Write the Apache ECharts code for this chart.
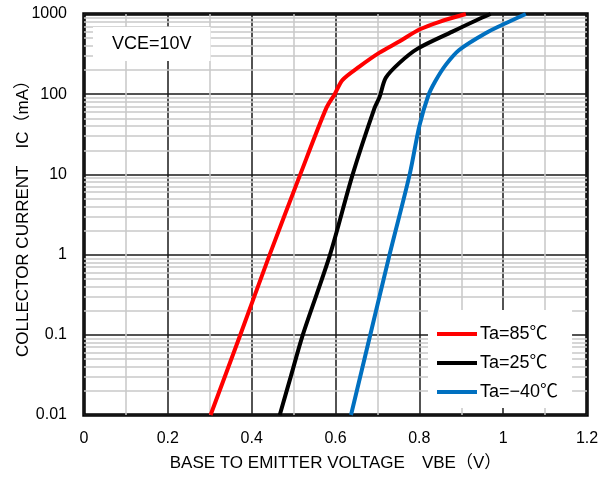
<!DOCTYPE html>
<html>
<head>
<meta charset="utf-8">
<script src="https://cdn.jsdelivr.net/npm/echarts@6/dist/echarts.min.js"></script>
<style>html,body{margin:0;padding:0;background:#fff}#c{width:607px;height:477px}</style>
</head>
<body>
<div id="c"></div>
<script>
// Data (VBE in V, IC in mA)
const SERIES_NAMES = ['Ta=85℃', 'Ta=25℃', 'Ta=−40℃'];
const ta85 = [[0.302,0.01],[0.373,0.1],[0.443,1],[0.516,10],[0.578,67],[0.598,100],[0.617,151],[0.657,221],[0.705,330],[0.752,453],[0.8,640],[0.848,800],[0.911,1000]];
const ta25 = [[0.467,0.01],[0.494,0.031],[0.522,0.1],[0.587,1],[0.641,10],[0.693,67],[0.705,92],[0.72,160],[0.752,244],[0.796,370],[0.879,603],[0.935,830],[0.97,1000]];
const taM40 = [[0.637,0.01],[0.683,0.1],[0.729,1],[0.777,10],[0.80,40],[0.821,95],[0.838,145],[0.863,232],[0.895,356],[0.958,576],[1.006,766],[1.054,1000]];
const Y_TICK_LABELS = ['0.01','0.1','1','10','100','1000'];
const Y_DECADES = [0.01, 0.1, 1, 10, 100];
const Y_MINOR_MULTS = [2,3,4,5,6,7,8,9];
const X_MIN = 0, X_MAX = 1.2, X_INTERVAL = 0.2;
const ANNOTATION = 'VCE=10V';
const X_NAME = 'BASE TO EMITTER VOLTAGE　VBE（V）';
const Y_NAME = 'COLLECTOR CURRENT　IC（mA）';

const COLORS = ['#ff0000', '#000000', '#0070c0'];
const FONT = '"Liberation Sans", Arial, "Noto Sans CJK JP", sans-serif';

const minorY = [];
Y_DECADES.forEach(d => Y_MINOR_MULTS.forEach(m => minorY.push({ yAxis: +(d * m).toPrecision(3) })));

const chart = echarts.init(document.getElementById('c'), null, { renderer: 'canvas' });
const dataSets = [ta85, ta25, taM40];

chart.setOption({
  animation: false,
  backgroundColor: '#fff',
  textStyle: { fontFamily: FONT },
  grid: { left: 84, right: 20, top: 14, bottom: 61, show: true, borderColor: '#000', borderWidth: 3.5, backgroundColor: 'transparent' },
  title: {
    text: ANNOTATION,
    left: 93, top: 27,
    padding: [8, 19, 8, 19],
    backgroundColor: '#fff',
    z: 10,
    textStyle: { fontFamily: FONT, fontSize: 18, fontWeight: 'normal', color: '#000', lineHeight: 18 }
  },
  legend: {
    data: SERIES_NAMES,
    orient: 'vertical',
    left: 428, top: 310,
    padding: [14, 14, 6, 9],
    itemGap: 9,
    itemWidth: 40, itemHeight: 4,
    icon: 'rect',
    backgroundColor: '#fff',
    z: 10,
    textStyle: { fontFamily: FONT, fontSize: 18, color: '#000', lineHeight: 20, padding: [0, 0, 0, -2] }
  },
  xAxis: {
    type: 'value', min: X_MIN, max: X_MAX, interval: X_INTERVAL,
    name: X_NAME, nameLocation: 'middle', nameGap: 40,
    nameTextStyle: { fontFamily: FONT, fontSize: 17, color: '#000' },
    axisLine: { show: false }, axisTick: { show: false },
    axisLabel: { fontFamily: FONT, fontSize: 16, color: '#000', margin: 16, formatter: v => String(+v.toFixed(1)) },
    splitLine: { show: true, lineStyle: { color: '#1a1a1a', width: 1.5 } },
    minorTick: { show: false, splitNumber: 2 },
    minorSplitLine: { show: true, lineStyle: { color: '#c8c8c8', width: 1.5 } }
  },
  yAxis: {
    type: 'log', logBase: 10, min: 0.01, max: 1000,
    name: Y_NAME, nameLocation: 'middle', nameGap: 52, nameMoveOverlap: false,
    nameTextStyle: { fontFamily: FONT, fontSize: 17, color: '#000' },
    axisLine: { show: false }, axisTick: { show: false },
    axisLabel: { fontFamily: FONT, fontSize: 16, color: '#000', margin: 17, formatter: (v, i) => Y_TICK_LABELS[i] !== undefined ? Y_TICK_LABELS[i] : String(v) },
    splitLine: { show: true, lineStyle: { color: '#1a1a1a', width: 1.5 } }
  },
  series: [
    {
      type: 'line', name: '_minor', data: [], silent: true, z: 1,
      markLine: { z: 1, silent: true, symbol: 'none', label: { show: false }, lineStyle: { color: '#c8c8c8', width: 1.5, type: 'solid' }, data: minorY, animation: false }
    }
  ].concat(dataSets.map((d, i) => ({
    type: 'line', name: SERIES_NAMES[i], data: d, showSymbol: false, symbol: 'none', smooth: 0.3, z: 3 + i,
    lineStyle: { color: COLORS[i], width: 4 }, itemStyle: { color: COLORS[i] }
  })))
});
</script>
</body>
</html>
